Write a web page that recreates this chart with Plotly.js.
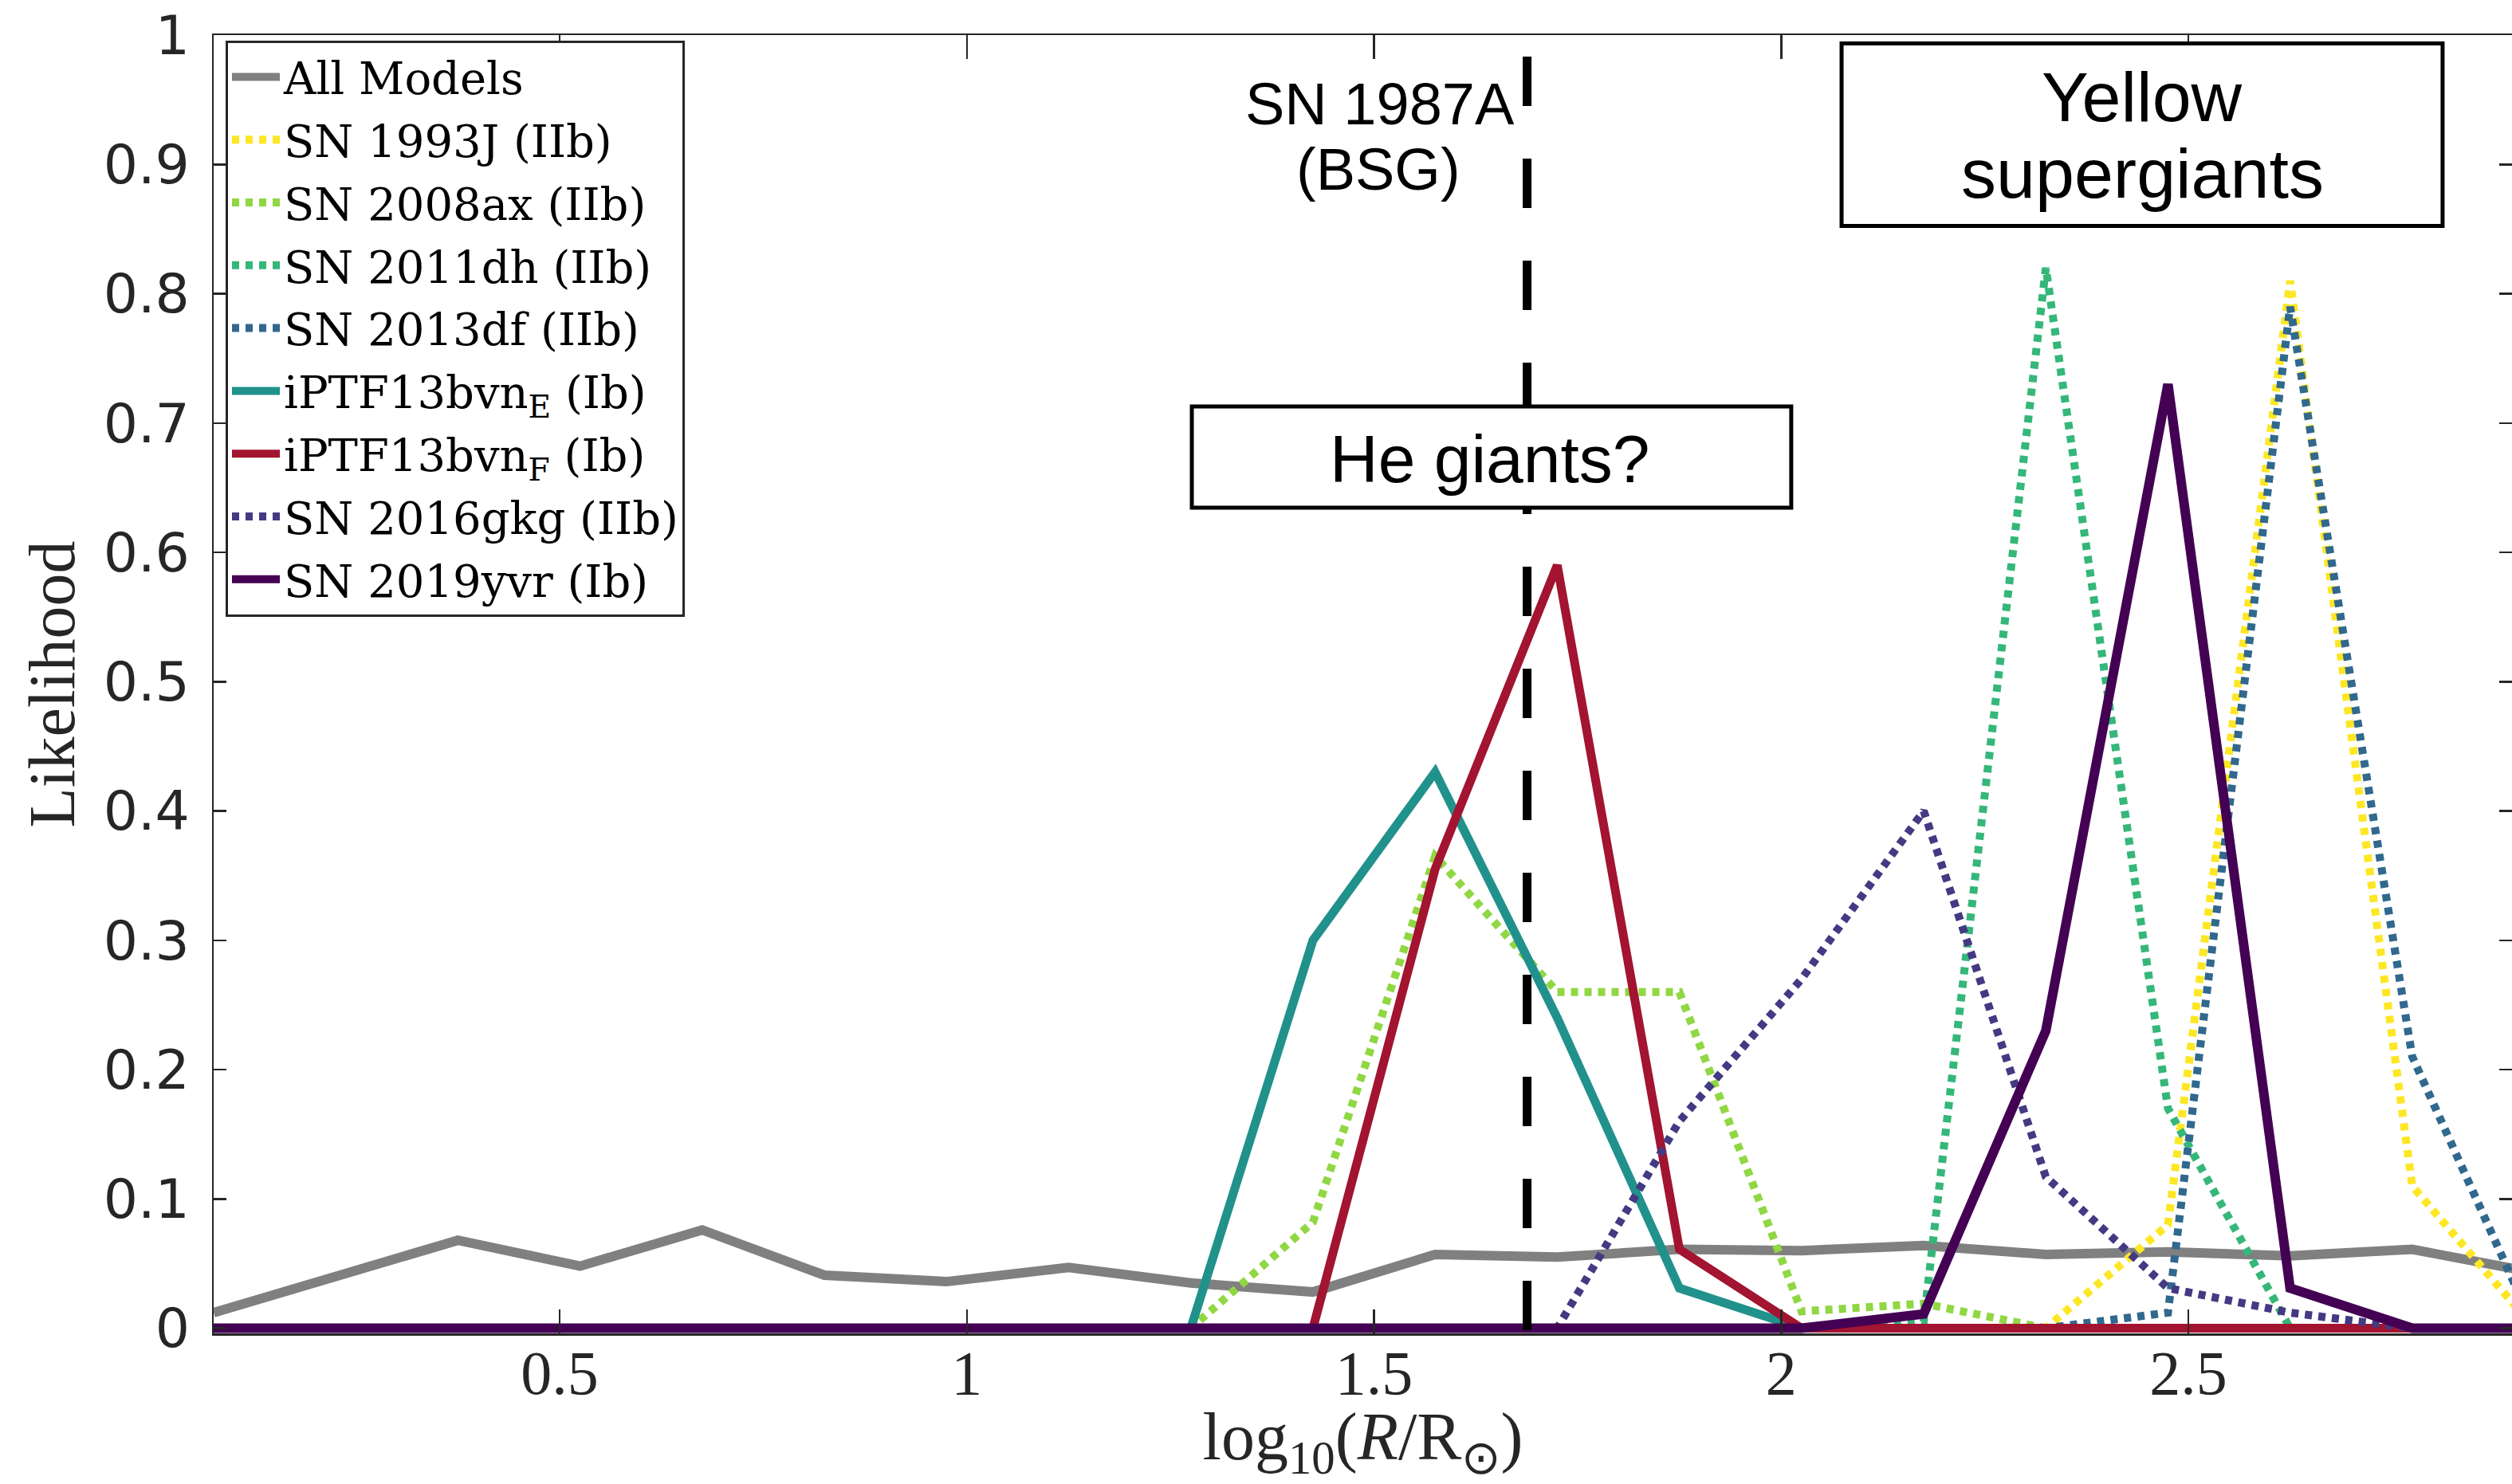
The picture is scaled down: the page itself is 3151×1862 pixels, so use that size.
<!DOCTYPE html>
<html>
<head>
<meta charset="utf-8">
<script src="https://cdn.plot.ly/plotly-3.0.1.min.js"></script>
<style>
  html, body { margin: 0; padding: 0; background: #ffffff; overflow: hidden; }
  #chart { width: 3151px; height: 1862px; }
</style>
</head>
<body>
<div id="chart"></div>
<script>
// Radius bins, log10(R / Rsun)
const logR = [0.075, 0.225, 0.375, 0.525, 0.675, 0.825, 0.975, 1.125, 1.275, 1.425,
              1.575, 1.725, 1.875, 2.025, 2.175, 2.325, 2.475, 2.625, 2.775, 2.925];

// Likelihood per radius bin
const allModels  = [0.012, 0.040, 0.068, 0.048, 0.076, 0.041, 0.036, 0.047, 0.035, 0.028,
                    0.057, 0.055, 0.061, 0.060, 0.064, 0.057, 0.059, 0.056, 0.061, 0.043];
const sn1993J    = [0, 0, 0, 0, 0, 0, 0, 0, 0, 0,
                    0, 0, 0, 0, 0, 0, 0.080, 0.810, 0.110, 0];
const sn2008ax   = [0, 0, 0, 0, 0, 0, 0, 0, 0, 0.082,
                    0.365, 0.260, 0.260, 0.013, 0.019, 0, 0, 0, 0, 0];
const sn2011dh   = [0, 0, 0, 0, 0, 0, 0, 0, 0, 0,
                    0, 0, 0, 0, 0.005, 0.820, 0.170, 0, 0, 0];
const sn2013df   = [0, 0, 0, 0, 0, 0, 0, 0, 0, 0,
                    0, 0, 0, 0, 0, 0, 0.012, 0.790, 0.210, 0];
const iptf13bvnE = [0, 0, 0, 0, 0, 0, 0, 0, 0, 0.300,
                    0.430, 0.240, 0.031, 0, 0, 0, 0, 0, 0, 0];
const iptf13bvnF = [0, 0, 0, 0, 0, 0, 0, 0, 0, 0,
                    0.355, 0.590, 0.061, 0, 0, 0, 0, 0, 0, 0];
const sn2016gkg  = [0, 0, 0, 0, 0, 0, 0, 0, 0, 0,
                    0, 0, 0.160, 0.270, 0.400, 0.117, 0.031, 0.012, 0, 0];
const sn2019yvr  = [0, 0, 0, 0, 0, 0, 0, 0, 0, 0,
                    0, 0, 0, 0, 0.011, 0.230, 0.730, 0.031, 0, 0];

const seriesNames = [
  'All Models',
  'SN 1993J (IIb)',
  'SN 2008ax (IIb)',
  'SN 2011dh (IIb)',
  'SN 2013df (IIb)',
  'iPTF13bvn<sub>E</sub> (Ib)',
  'iPTF13bvn<sub>F</sub> (Ib)',
  'SN 2016gkg (IIb)',
  'SN 2019yvr (Ib)'
];
const seriesValues = [allModels, sn1993J, sn2008ax, sn2011dh, sn2013df,
                      iptf13bvnE, iptf13bvnF, sn2016gkg, sn2019yvr];

// SN 1987A progenitor (blue supergiant) radius
const sn1987aLogR = 1.688;

// Axis ticks
const xTickVals = [0.5, 1, 1.5, 2, 2.5];
const xTickText = ['0.5', '1', '1.5', '2', '2.5'];
const yTickVals = [0, 0.1, 0.2, 0.3, 0.4, 0.5, 0.6, 0.7, 0.8, 0.9, 1];
const yTickText = ['0', '0.1', '0.2', '0.3', '0.4', '0.5', '0.6', '0.7', '0.8', '0.9', '1'];

// Line styles (viridis for the individual objects, red for the iPTF13bvn fit F)
const DOT = '9px,8px';
const lineStyles = [
  { color: '#808080', width: 12, dash: 'solid' },
  { color: '#fde725', width: 10, dash: DOT },
  { color: '#90d743', width: 10, dash: DOT },
  { color: '#35b779', width: 10, dash: DOT },
  { color: '#31688e', width: 10, dash: DOT },
  { color: '#21918c', width: 11, dash: 'solid' },
  { color: '#a2142f', width: 11, dash: 'solid' },
  { color: '#443983', width: 10, dash: DOT },
  { color: '#440154', width: 12, dash: 'solid' }
];

const traces = seriesValues.map((vals, i) => ({
  type: 'scatter',
  mode: 'lines',
  x: logR,
  y: vals,
  name: seriesNames[i],
  legendgroup: 'g' + i,
  line: lineStyles[i],
  hoverinfo: 'x+y+name'
}));

const axisColor = '#262626';
const sansLabel = 'Liberation Sans, Arial, sans-serif';

const layout = {
  width: 3151,
  height: 1862,
  margin: { l: 268, r: 0, t: 44, b: 189, pad: 0 },
  paper_bgcolor: '#ffffff',
  plot_bgcolor: '#ffffff',
  showlegend: true,
  legend: {
    x: 0.0052, y: 0.9960, xanchor: 'left', yanchor: 'top',
    bgcolor: '#ffffff', bordercolor: axisColor, borderwidth: 3,
    font: { family: 'DejaVu Serif, serif', size: 56, color: '#000000' },
    itemwidth: 60,
    tracegroupgap: 3
  },
  xaxis: {
    range: [0.075, 2.8975],
    tickmode: 'array', tickvals: xTickVals, ticktext: xTickText,
    ticks: 'inside', ticklen: 30, tickwidth: 2.5, tickcolor: axisColor,
    showline: true, linecolor: axisColor, linewidth: 2.5, mirror: 'ticks',
    showgrid: false, zeroline: false,
    tickfont: { family: 'Liberation Serif, serif', size: 78, color: axisColor },
    ticklabelstandoff: -20,
    title: {
      text: 'log<sub>10</sub>(<i>R</i>/R<sub>⊙</sub>)',
      font: { family: 'Liberation Serif, serif', size: 84, color: axisColor },
      standoff: 48
    }
  },
  yaxis: {
    range: [-0.004, 1],
    tickmode: 'array', tickvals: yTickVals, ticktext: yTickText,
    ticks: 'inside', ticklen: 16, tickwidth: 2.5, tickcolor: axisColor,
    showline: true, linecolor: axisColor, linewidth: 2.5, mirror: 'ticks',
    showgrid: false, zeroline: false,
    tickfont: { family: 'DejaVu Sans, sans-serif', size: 68, color: axisColor },
    ticklabelstandoff: 14,
    title: {
      text: 'Likelihood',
      font: { family: 'Liberation Serif, serif', size: 82, color: axisColor },
      standoff: 9
    }
  },
  shapes: [
    // SN 1987A marker
    {
      type: 'line', xref: 'x', yref: 'y',
      x0: sn1987aLogR, x1: sn1987aLogR, y0: 0.9834, y1: -0.0015,
      line: { color: '#000000', width: 11, dash: '62px,66px' },
      layer: 'above'
    },
    // "He giants?" box
    {
      type: 'rect', xref: 'paper', yref: 'paper',
      x0: 0.4256, x1: 0.6864, y0: 0.6360, y1: 0.7139,
      fillcolor: '#ffffff', line: { color: '#000000', width: 5 },
      layer: 'above'
    },
    // "Yellow supergiants" box
    {
      type: 'rect', xref: 'paper', yref: 'paper',
      x0: 0.7083, x1: 0.9698, y0: 0.8530, y1: 0.9936,
      fillcolor: '#ffffff', line: { color: '#000000', width: 5 },
      layer: 'above'
    }
  ],
  annotations: [
    { text: 'SN 1987A', xref: 'paper', yref: 'paper', x: 0.5073, y: 0.9466,
      xanchor: 'center', yanchor: 'middle', showarrow: false,
      font: { family: sansLabel, size: 74, color: '#000000' } },
    { text: '(BSG)', xref: 'paper', yref: 'paper', x: 0.5068, y: 0.8966,
      xanchor: 'center', yanchor: 'middle', showarrow: false,
      font: { family: sansLabel, size: 74, color: '#000000' } },
    { text: 'He giants?', xref: 'paper', yref: 'paper', x: 0.5553, y: 0.6735,
      xanchor: 'center', yanchor: 'middle', showarrow: false,
      font: { family: sansLabel, size: 84, color: '#000000' } },
    { text: 'Yellow', xref: 'paper', yref: 'paper', x: 0.8391, y: 0.9524,
      xanchor: 'center', yanchor: 'middle', showarrow: false,
      font: { family: sansLabel, size: 88, color: '#000000' } },
    { text: 'supergiants', xref: 'paper', yref: 'paper', x: 0.8391, y: 0.8935,
      xanchor: 'center', yanchor: 'middle', showarrow: false,
      font: { family: sansLabel, size: 88, color: '#000000' } }
  ]
};

Plotly.newPlot('chart', traces, layout, { displayModeBar: false, responsive: false, staticPlot: true });
</script>
</body>
</html>
